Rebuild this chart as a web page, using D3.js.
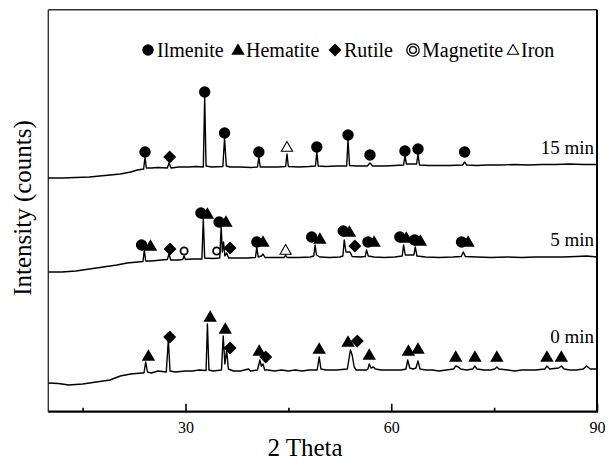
<!DOCTYPE html>
<html><head><meta charset="utf-8">
<script src="https://cdn.jsdelivr.net/npm/d3@7"></script>
<style>body{margin:0;background:#fff}svg{display:block}</style>
</head><body>
<svg id="c" width="608" height="462"></svg>
<script>
// ---- data ----
const xDomain = [10, 90];
const majorTicks = [30, 60, 90];
const minorTicks = [15, 45, 75];
const xLabel = "2 Theta";
const yLabel = "Intensity (counts)";
const seriesLabels = ["0 min", "5 min", "15 min"];
const legendLabels = ["Ilmenite", "Hematite", "Rutile", "Magnetite", "Iron"];

// [2theta, intensity (arb. units, offset stacked)]
const profile0 = [[10,29],[11.5,28.5],[13,27],[15,28],[17,30],[19,32],[20.5,36],[22,38],[23.6,39],
 [23.95,39],[24.2,50],[24.45,40],[25,39],[26,41],[27.2,40],[27.5,72],[27.75,41],[28.5,40],[30,41],[31,41],[32,42],[33.0,41.5],
 [33.2,88],[33.42,42],[34,41],[35.25,42],[35.5,76],[35.75,48],[36.0,62],[36.25,43],[37,41],[38,41],[39.2,43],[39.5,41],[40.5,42],
 [40.85,52],[41.05,46],[41.3,48],[41.55,42],[42,42],[43,41],[44,42],[45,41],[46,42],[47,41],[48,42],[49.2,42],
 [49.5,55],[49.75,43],[50.5,42],[52,42],[53.6,43],[54.05,62],[54.3,57],[54.6,45],[54.9,42],[55.5,42],[56.4,42],
 [56.6,43],[56.8,48],[57.05,44],[57.4,45],[57.7,43],[58.5,42],[60,42],[61.5,42],[62.15,43],[62.4,52],[62.7,44],[63.2,43],
 [63.6,44],[63.9,51],[64.2,43],[65,42],[66,42],[67,41],[68,42],[69.1,43],[69.4,46],[69.8,45],[70.1,43],[71,42],[71.9,43],
 [72.2,46],[72.5,43],[73.5,42],[74.5,42],[75.1,43],[75.4,45],[75.7,43],[77,42],[78,41],[79,42],[80,42],[81,42],[82.4,43],
 [82.7,46],[83.1,43],[84.4,44],[84.8,46],[85.2,43],[86,42],[87,42],[88,43],[88.5,46],[89,43],[90,43]];
const profile5 = [[10,140],[12,140],[14,141],[16,143],[18,145],[20,147],[21.5,149],[23,150],[23.8,150.5],
 [24.0,162],[24.2,151],[25,151],[26.5,152],[27.35,152.5],[27.6,158],[27.85,152],[28.8,152],[29.6,152.5],[29.8,156],[30.0,152.5],
 [31,153],[32.4,153],[32.6,194],[32.8,154],[34,153.5],[35.0,154],[35.2,185],[35.38,160],[35.55,170],[35.75,156],[36.0,159],[36.3,154],
 [37.5,154],[39,154],[40.2,154.5],[40.4,165],[40.6,155],[41.1,156],[41.3,158],[41.6,154.5],[43,154.5],[44.4,154.5],[44.6,157],
 [44.8,154.5],[46.5,154.5],[48.2,155],[48.7,156],[48.9,167],[49.1,157],[49.6,155],[51,154.5],[52.5,155],[52.95,156],[53.15,172],
 [53.4,160],[54.0,160],[54.3,155.5],[55.5,155],[56.2,155.5],[56.4,162],[56.65,156],[57.5,155],[59,154.5],[60.5,155],[61.6,156],
 [61.8,167],[62.05,157],[63.3,157],[63.5,165],[63.75,156],[65,155],[67,154.5],[69,155],[70.2,155.5],[70.5,160],[70.8,155.5],
 [72.5,155],[74.5,154.5],[77,155],[79,154.5],[81,155],[83,155],[85,155],[87,155.5],[88.5,156],[90,155]];
const profile15 = [[10,234],[12,234],[14,234.5],[16,235],[17.5,236],[19,237],[20.5,238],[22,240],[23,242],[23.9,243],
 [24.1,255],[24.3,244],[25,244],[26,244.5],[27.35,244],[27.6,249],[27.9,244],[29,245],[30.5,245],[31.5,245.5],[32.6,245],
 [32.8,315],[33.0,246],[33.8,245],[35.45,245.5],[35.7,274],[35.95,246],[36.5,245],[38,245],[39.5,244.5],[40.5,245],[40.7,255],
 [40.9,245],[42,245],[43.5,245],[44.6,245.5],[44.8,258],[45,245.5],[46.5,245],[48,245.5],[48.95,246],[49.15,260],[49.35,246],
 [50.5,245.5],[52,246],[53.5,246],[53.7,272],[53.92,246.5],[55,246],[56.5,246],[56.9,249],[57.3,246],[59,246],[60.5,246.5],
 [61.8,247],[62.0,256],[62.22,248],[63.7,248],[63.9,258],[64.12,247],[65.5,246.5],[67,246.5],[68.5,246.5],[70.4,247],[70.7,250],
 [71,247],[72.5,246.5],[74,247],[76,247],[78,247.5],[80,247],[82,247.5],[84,247.5],[86,248],[88,247.5],[90,247.5]];

// phase markers [2theta, intensity]
const hematite0 = [[24.6,55],[33.6,94],[35.8,82],[40.75,60],[49.5,62],[53.7,69],[56.8,56],[62.5,60],[63.9,62],[69.4,54],[72.2,54],[75.4,54],[82.7,54],[84.8,54]];
const rutile0 = [[27.7,75],[36.5,64],[41.7,55],[55.05,71]];
const ilmenite5 = [[23.6,167],[32.25,199],[34.9,190],[40.4,170],[48.4,175],[53.0,181],[56.6,170],[61.25,175],[63.4,172],[70.25,170]];
const hematite5 = [[24.9,165],[33.2,197],[35.9,189],[41.3,169],[49.6,172],[53.9,179],[57.5,169],[62.2,173],[64.25,170],[71.2,169]];
const rutile5 = [[27.75,163],[36.5,164],[54.7,166]];
const magnetite5 = [[29.8,161],[34.55,161]];
const iron5 = [[44.6,161]];
const ilmenite15 = [[24.1,260],[32.8,320],[35.7,279],[40.7,260],[49.15,265],[53.7,277],[56.9,257],[62.0,261],[63.9,263],[70.7,260]];
const rutile15 = [[27.7,255]];
const iron15 = [[44.8,264]];
const labelLevels = [76, 173, 265];

// ---- drawing ----
const svg = d3.select("#c");
const L = 48.3, R = 597, T = 9.7, B = 411.7;
const x = d3.scaleLinear().domain(xDomain).range([L, R]);
const y = d3.scaleLinear().domain([0, 402]).range([412, 10]);
const serif = "'Liberation Serif','Times New Roman',serif";

// frame
svg.append("line").attr("x1",L).attr("x2",R).attr("y1",T).attr("y2",T).attr("stroke","#333").attr("stroke-width",1.4);
svg.append("line").attr("x1",L).attr("x2",L).attr("y1",T).attr("y2",B).attr("stroke","#333").attr("stroke-width",1.4);
svg.append("line").attr("x1",R).attr("x2",R).attr("y1",T).attr("y2",B).attr("stroke","#000").attr("stroke-width",2);
svg.append("line").attr("x1",L).attr("x2",R+1).attr("y1",B).attr("y2",B).attr("stroke","#000").attr("stroke-width",2.2);

const axMaj = d3.axisBottom(x).tickValues(majorTicks).tickSizeInner(-8).tickSizeOuter(0).tickPadding(10).tickFormat(d3.format("d"));
const gMaj = svg.append("g").attr("transform",`translate(0,${B})`).call(axMaj);
const axMin = d3.axisBottom(x).tickValues(minorTicks).tickSizeInner(-4).tickSizeOuter(0).tickFormat("");
const gMin = svg.append("g").attr("transform",`translate(0,${B})`).call(axMin);
[gMaj,gMin].forEach(g=>{g.select(".domain").remove(); g.attr("font-family",serif); g.selectAll("line").attr("stroke","#000").attr("stroke-width",1.6);});
gMaj.selectAll("text").attr("font-family",serif).attr("font-size",16).attr("fill","#000");

// axis titles
svg.append("text").attr("x",305).attr("y",456).attr("text-anchor","middle").attr("font-family",serif).attr("font-size",25).text(xLabel);
svg.append("text").attr("transform","translate(31,208) rotate(-90)").attr("text-anchor","middle").attr("font-family",serif).attr("font-size",25).text(yLabel);

// profiles
const line = d3.line().x(d=>x(d[0])).y(d=>y(d[1]));
[profile0, profile5, profile15].forEach(p=>{
  svg.append("path").attr("d",line(p)).attr("fill","none").attr("stroke","#000").attr("stroke-width",1.4).attr("stroke-linejoin","round");
});

// marker generators
const symCircle = d3.symbol().type(d3.symbolCircle).size(Math.PI*5.7*5.7);
const symTri = d3.symbol().type(d3.symbolTriangle).size(78);
const symSquare = d3.symbol().type(d3.symbolSquare).size(84);
const symOpenTri = d3.symbol().type(d3.symbolTriangle).size(54);
function draw(data, kind, cx, cy){
  data.forEach(d=>{
    const px = cx ? cx : x(d[0]), py = cy ? cy : y(d[1]);
    const g = svg.append("g").attr("transform",`translate(${px},${py})`);
    if(kind==="ilmenite") g.append("path").attr("d",symCircle()).attr("fill","#000");
    if(kind==="hematite") g.append("path").attr("d",symTri()).attr("fill","#000");
    if(kind==="rutile") g.append("path").attr("d",symSquare()).attr("transform","rotate(45)").attr("fill","#000");
    if(kind==="magnetite") g.append("circle").attr("r",3.6).attr("fill","#fff").attr("stroke","#000").attr("stroke-width",1.8);
    if(kind==="magnetiteLegend"){ g.append("circle").attr("r",6.2).attr("fill","#fff").attr("stroke","#000").attr("stroke-width",1.3);
      g.append("circle").attr("r",3.4).attr("fill","none").attr("stroke","#000").attr("stroke-width",1.3);}
    if(kind==="iron") g.append("path").attr("d",symOpenTri()).attr("fill","#fff").attr("stroke","#000").attr("stroke-width",1.1);
  });
}
draw(hematite0,"hematite"); draw(rutile0,"rutile");
draw(hematite5,"hematite"); draw(ilmenite5,"ilmenite"); draw(rutile5,"rutile"); draw(magnetite5,"magnetite"); draw(iron5,"iron");
draw(ilmenite15,"ilmenite"); draw(rutile15,"rutile"); draw(iron15,"iron");

// series labels
seriesLabels.forEach((s,i)=>{
  svg.append("text").attr("x",594).attr("y",y(labelLevels[i])+6.5).attr("text-anchor","end")
    .attr("font-family",serif).attr("font-size",19).text(s);
});

// legend
const legKinds = ["ilmenite","hematite","rutile","magnetiteLegend","iron"];
const legSymX = [148, 238, 335, 413, 513];
const legTextX = [157, 246, 344, 422, 521];
legKinds.forEach((k,i)=>{
  draw([[0,0]], k, legSymX[i], k==="hematite"||k==="iron" ? 51 : 50);
  svg.append("text").attr("x",legTextX[i]).attr("y",57).attr("font-family",serif).attr("font-size",20).text(legendLabels[i]);
});
</script>
</body></html>
